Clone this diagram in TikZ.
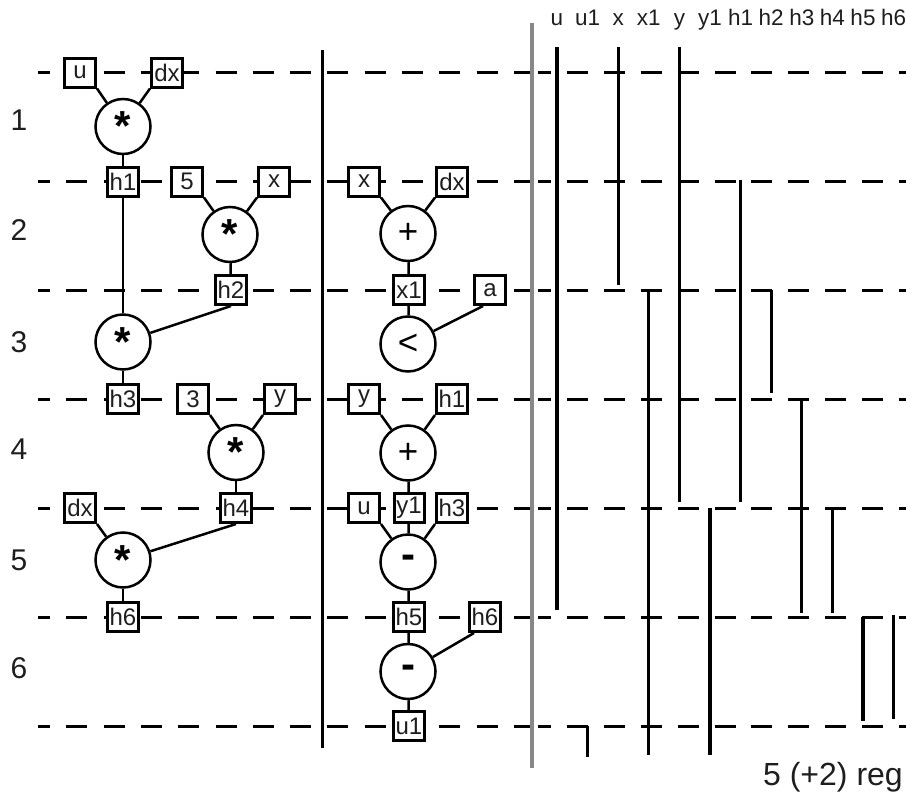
\documentclass[tikz,border=0pt]{standalone}
\usepackage{fontspec}
\setmainfont{Liberation Sans}
\definecolor{midgray}{RGB}{136,136,136}
\definecolor{txt}{RGB}{30,30,30}
\begin{document}
\begin{tikzpicture}[x=1pt,y=-1pt,
  box/.style={draw, line width=3pt, fill=white, minimum width=31pt, minimum height=29pt, inner sep=0pt, text=txt, font=\fontsize{24}{28}\selectfont},
  opc/.style={circle, draw, line width=2.5pt, fill=white, minimum size=55pt, inner sep=0pt},
  opb/.style={opc, font=\fontsize{42}{44}\selectfont\bfseries},
  opr/.style={opc, font=\fontsize{35}{38}\selectfont},
  conn/.style={line width=2.5pt},
  dl/.style={line width=3pt, dash pattern=on 21pt off 16.3pt, dash phase=9pt},
  dr/.style={line width=3pt, dash pattern=on 21pt off 15.9pt, dash phase=8pt},
  regl/.style={line width=3.3pt},
  hdr/.style={anchor=base, text=txt, font=\fontsize{22.5}{26}\selectfont, inner sep=0pt},
  rown/.style={anchor=base, text=txt, font=\fontsize{30}{32}\selectfont, inner sep=0pt}
]
\useasboundingbox (0,0) rectangle (906,795);

% dashed step lines
\foreach \y in {72.5,181.5,290,399,508,617,726} {
  \draw[dl] (38,\y) -- (532,\y);
  \draw[dr] (538,\y) -- (906,\y);
}

% separators
\draw[line width=3pt] (322,50) -- (322,748);
\draw[line width=3.3pt, midgray] (532,23) -- (532,768);

% register header and lifetimes
\foreach \n [count=\i from 0] in {u,u1,x,x1,y,y1,h1,h2,h3,h4,h5,h6}
  \node[hdr] (hd-\n) at (557+30.6*\i,25) {\n};
\foreach \i/\a/\b in {0/47/610, 1/726/757, 2/47/285, 3/290/755, 4/47/502, 5/508/755,
                      6/180/502, 7/290/393, 8/399/613, 9/508/613, 10/617/721, 11/615/719}
  \draw[regl] (557+30.6*\i,\a) -- (557+30.6*\i,\b);

% step numbers
\node[rown] (n1) at (19,130) {1};
\node[rown] (n2) at (19,240) {2};
\node[rown] (n3) at (19,352) {3};
\node[rown] (n4) at (19,459) {4};
\node[rown] (n5) at (19,570) {5};
\node[rown] (n6) at (19,678) {6};

% ---- left graph ----
% row 1
\node[box] (a-u)  at (80,72.5) {u};
\node[box] (a-dx) at (167,72.5) {dx};
\node[opb] (op1) at (123,126.5) {*};
\node[box] (a-h1) at (123,181.5) {h1};
% row 2
\node[box] (b-5) at (187,181.5) {5};
\node[box] (b-x) at (274,181.5) {x};
\node[opb] (op2) at (230,234.5) {*};
\node[box] (b-h2) at (231,290) {h2};
% row 3
\node[opb] (op3) at (123,342) {*};
\node[box] (c-h3) at (123,399) {h3};
% row 4
\node[box] (d-3) at (193,399) {3};
\node[box] (d-y) at (280,399) {y};
\node[opb] (op4) at (236,452.5) {*};
\node[box] (d-h4) at (236,508) {h4};
% row 5
\node[box] (e-dx) at (80,508) {dx};
\node[opb] (op5) at (123,560) {*};
\node[box] (e-h6) at (123,617) {h6};

\draw[conn] (a-u.south east) -- (op1);
\draw[conn] (a-dx.south west) -- (op1);
\draw[conn] (op1) -- (a-h1);
\draw[conn] (b-5.south east) -- (op2);
\draw[conn] (b-x.south west) -- (op2);
\draw[conn] (op2) -- (b-h2);
\draw[conn] (a-h1) -- (op3);
\draw[conn] (b-h2.south) -- (op3);
\draw[conn] (op3) -- (c-h3);
\draw[conn] (d-3.south east) -- (op4);
\draw[conn] (d-y.south west) -- (op4);
\draw[conn] (op4) -- (d-h4);
\draw[conn] (e-dx.south east) -- (op5);
\draw[conn] (d-h4.south) -- (op5);
\draw[conn] (op5) -- (e-h6);

% ---- middle graph ----
% row 2
\node[box] (m-x)  at (364,181.5) {x};
\node[box] (m-dx) at (452,181.5) {dx};
\node[opr] (mop2) at (408,233.5) {+};
\node[box] (m-x1) at (409,290) {x1};
% row 3
\node[box] (m-a) at (490,290) {a};
\node[opr] (mop3) at (408,344) {<};
% row 4
\node[box] (m-y)  at (364,399) {y};
\node[box] (m-h1) at (452,399) {h1};
\node[opr] (mop4) at (408,453) {+};
\node[box, minimum width=30pt] (m-y1) at (409,508) {y1};
% row 5
\node[box] (m-u)  at (364,508) {u};
\node[box] (m-h3) at (452,508) {h3};
\node[opb] (mop5) at (408,562) {-};
\node[box] (m-h5) at (409,617) {h5};
% row 6
\node[box] (m-h6) at (485,617) {h6};
\node[opb] (mop6) at (408,671.5) {-};
\node[box] (m-u1) at (409,726) {u1};

\draw[conn] (m-x.south east) -- (mop2);
\draw[conn] (m-dx.south west) -- (mop2);
\draw[conn] (mop2) -- (m-x1);
\draw[conn] (m-x1) -- (mop3);
\draw[conn] ([xshift=-7pt]m-a.south) -- (mop3);
\draw[conn] (m-y.south east) -- (mop4);
\draw[conn] (m-h1.south west) -- (mop4);
\draw[conn] (mop4) -- (m-y1);
\draw[conn] (m-u.south east) -- (mop5);
\draw[conn] (m-y1) -- (mop5);
\draw[conn] (m-h3.south west) -- (mop5);
\draw[conn] (mop5) -- (m-h5);
\draw[conn] (m-h5) -- (mop6);
\draw[conn] ([xshift=-11pt]m-h6.south) -- (mop6);
\draw[conn] (mop6) -- (m-u1);

% summary
\node[anchor=base east, text=txt, font=\fontsize{32}{36}\selectfont, inner sep=0pt] (sum) at (903,785) {5 (+2) reg};
\end{tikzpicture}
\end{document}
